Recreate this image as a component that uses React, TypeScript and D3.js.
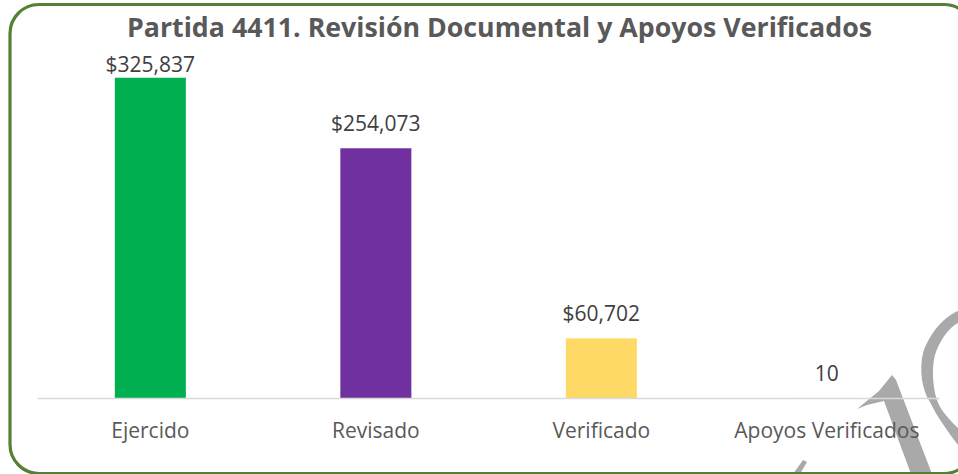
import React from "react";
import * as d3 from "d3";

const categories = ["Ejercido", "Revisado", "Verificado", "Apoyos Verificados"];
const values = [325837, 254073, 60702, 10];
const valueLabels = ["$325,837", "$254,073", "$60,702", "10"];
const barColors = ["#00B050", "#7030A0", "#FFD966", "#4472C4"];
const title = "Partida 4411. Revisión Documental y Apoyos Verificados";

const W = 958;
const H = 474;

export default function App() {
  const x = d3.scaleBand<string>().domain(categories).range([37.6, 939.6]).padding(0);
  const y = d3.scaleLinear().domain([0, 350000]).range([398, 54]);
  const barW = x.bandwidth() * 0.315;
  const font = "'Open Sans', 'Noto Sans', sans-serif";

  const frame = (() => {
    const l = 10, t = 4.5, r = 973, b = 473.5, rad = 29;
    const p = d3.path();
    p.moveTo(l + rad, t);
    p.lineTo(r - rad, t);
    p.arcTo(r, t, r, t + rad, rad);
    p.lineTo(r, b - rad);
    p.arcTo(r, b, r - rad, b, rad);
    p.lineTo(l + rad, b);
    p.arcTo(l, b, l, b - rad, rad);
    p.lineTo(l, t + rad);
    p.arcTo(l, t, l + rad, t, rad);
    p.closePath();
    return p.toString();
  })();

  return (
    <svg width={W} height={H} style={{ position: "absolute", left: 0, top: 0, background: "#fff" }}>
      <rect x={0} y={0} width={W} height={H} fill="#fff" />
      {/* watermark */}
      <g fill="#a9a9a9">
        <path d="M892,375 L896,380 L932,474 L911,474 L884,401 L867,405 L857,409 L879,391 Z" />
        <path d="M793,474 L803,460 L807,462 L800,474 Z" />
        <path d="M958,311 C945,316 930,332 923,353 C919,370 922,390 930,402 C936,415 948,432 958,445 L958,428 C950,420 940,410 937,400 C932,385 932,365 935,355 C939,342 948,328 958,323 Z" />
      </g>
      <path d={frame} fill="none" stroke="#538135" strokeWidth={3.2} />
      <text x={499.5} y={37} textAnchor="middle" fontFamily={font} fontWeight="bold" fontSize={26} fill="#595959" textLength={745} lengthAdjust="spacingAndGlyphs">
        {title}
      </text>
      {categories.map((c, i) => {
        const cx = (x(c) as number) + x.bandwidth() / 2;
        const top = y(values[i]);
        return (
          <g key={c}>
            <rect x={cx - barW / 2} y={top} width={barW} height={y(0) - top} fill={barColors[i]} />
            <text x={cx} y={Math.max(top - 17, 72)} textAnchor="middle" fontFamily={font} fontSize={21} fill="#404040">
              {valueLabels[i]}
            </text>
            <text x={cx} y={437.5} textAnchor="middle" fontFamily={font} fontSize={21} fill="#595959">
              {c}
            </text>
          </g>
        );
      })}
      <line x1={37.6} x2={939.6} y1={398.5} y2={398.5} stroke="#d9d9d9" strokeWidth={1.5} />
    </svg>
  );
}
